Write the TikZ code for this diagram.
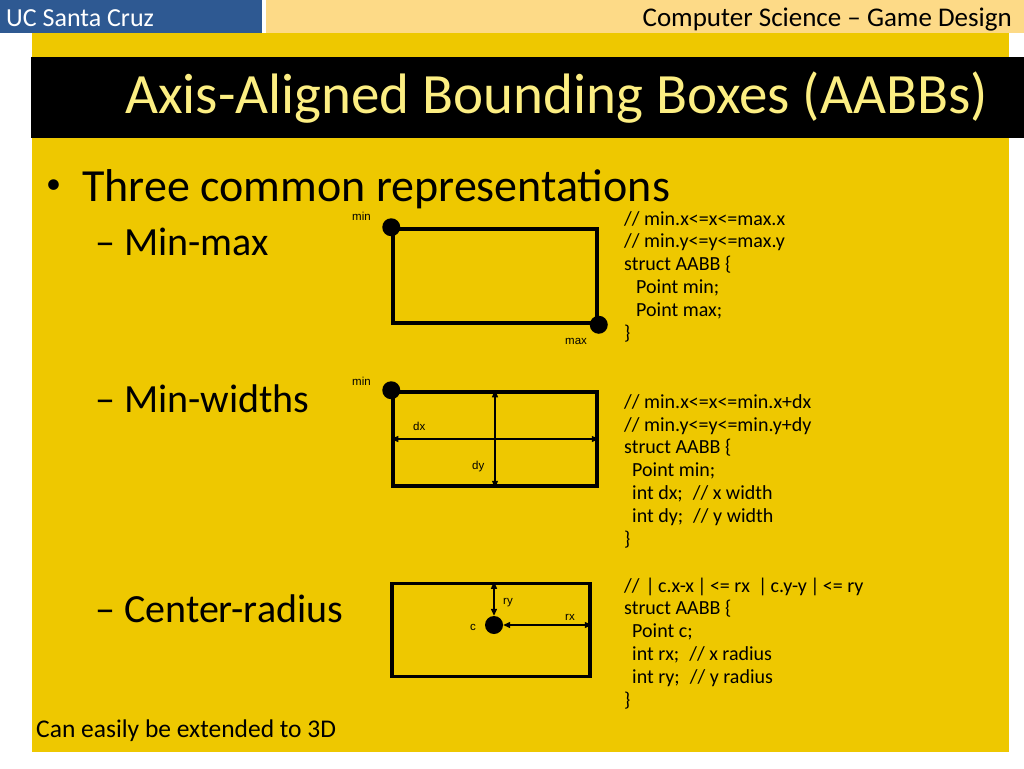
\documentclass[tikz,border=0pt]{standalone}
\usepackage{fontspec}
\setmainfont{Carlito}
\newfontfamily\lblfont{Liberation Sans}
\usetikzlibrary{positioning,arrows.meta}
\definecolor{ucblue}{RGB}{46,89,146}
\definecolor{paleband}{RGB}{253,218,135}
\definecolor{slideyellow}{RGB}{238,200,0}
\definecolor{titleyellow}{RGB}{252,238,130}

\begin{document}
\begin{tikzpicture}
  [x=1pt, y=-1pt,
   every node/.style={inner sep=0pt, anchor=base west},
   header/.style={font=\fontsize{26}{28}\selectfont},
   heading/.style={font=\fontsize{57}{62}\selectfont, text=titleyellow},
   item/.style={font=\fontsize{46}{50}\selectfont},
   subitem/.style={font=\fontsize{40}{44}\selectfont},
   codeblock/.style={font=\fontsize{20}{22.8}\selectfont, align=left},
   lbl/.style={font=\lblfont\fontsize{11.5}{12}\selectfont},
   aabb/.style={draw, line width=3.5pt, anchor=center, minimum width=204pt, minimum height=94pt},
   dot/.style={circle, fill=black, anchor=center, minimum size=18pt},
   dim/.style={line width=1.3pt, {Triangle[length=7pt,width=6pt]}-{Triangle[length=7pt,width=6pt]}}]
  % background and bars
  \fill[white] (0,0) rectangle (1024,768);
  \fill[ucblue] (0,0) rectangle (262,33);
  \fill[paleband] (266,0) rectangle (1024,33);
  \fill[slideyellow] (32,33) rectangle (1009,752);
  \fill[black] (31,57) rectangle (1024,138);
  \node[header, text=white] (school) at (6,27) {UC Santa Cruz};
  \node[header, font=\fontsize{27}{28}\selectfont, anchor=base east] (dept) at (1012,27) {Computer Science -- Game Design};
  \node[heading] (title) at (125,113) {Axis-Aligned Bounding Boxes (AABBs)};
  % bullets
  \node[font=\fontsize{30}{30}\selectfont] (bullet) at (46,193) {•};
  \node[item] (three) at (82,201) {Three common representations};
  \node[subitem] (minmax) at (95,255) {– Min-max};
  \node[subitem] (minwidths) at (95,412) {– Min-widths};
  \node[subitem] (centerradius) at (95,622) {– Center-radius};
  \node[font=\fontsize{25.5}{27}\selectfont] (extend) at (36,737) {Can easily be extended to 3D};
  % min-max
  \node[aabb] (mmbox) at (495,276) {};
  \node[dot] (mmmin) at (mmbox.north west) {};
  \node[dot] (mmmax) at (mmbox.south east) {};
  \node[lbl] (mmminlbl) at (352,220) {min};
  \node[lbl] (mmmaxlbl) at (565,344) {max};
  \node[codeblock] (mmcode) at (624,339) {// min.x<=x<=max.x\\// min.y<=y<=max.y\\struct AABB \{\\\hspace*{12pt}Point min;\\\hspace*{12pt}Point max;\\\}};
  % min-widths
  \node[aabb] (mwbox) at (495,439) {};
  \node[dot] (mwmin) at (mwbox.north west) {};
  \node[lbl] (mwminlbl) at (352,385) {min};
  \draw[dim] (mwbox.west) -- (mwbox.east);
  \draw[dim] (mwbox.north) -- (mwbox.south);
  \node[lbl] (dxlbl) at (413,430) {dx};
  \node[lbl] (dylbl) at (472,469) {dy};
  \node[codeblock] (mwcode) at (624,545) {// min.x<=x<=min.x+dx\\// min.y<=y<=min.y+dy\\struct AABB \{\\\hspace*{8pt}Point min;\\\hspace*{8pt}int dx;\hspace{10pt}// x width\\\hspace*{8pt}int dy;\hspace{10pt}// y width\\\}};
  % center-radius
  \node[aabb, minimum width=198pt, minimum height=93pt] (crbox) at (491,630) {};
  \node[dot] (cdot) at (494,625) {};
  \draw[dim] (cdot.north) -- (cdot.north |- crbox.north);
  \draw[dim] (cdot.east) -- (cdot.east -| crbox.east);
  \node[lbl] (clbl) at (470,630) {c};
  \node[lbl] (rylbl) at (503,604) {ry};
  \node[lbl] (rxlbl) at (565,620) {rx};
  \node[codeblock] (crcode) at (624,706) {//\hspace{6pt}|\,c.x-x\,|\,<= rx\hspace{8pt}|\,c.y-y\,|\,<= ry\\struct AABB \{\\\hspace*{8pt}Point c;\\\hspace*{8pt}int rx;\hspace{10pt}// x radius\\\hspace*{8pt}int ry;\hspace{10pt}// y radius\\\}};
\end{tikzpicture}
\end{document}
